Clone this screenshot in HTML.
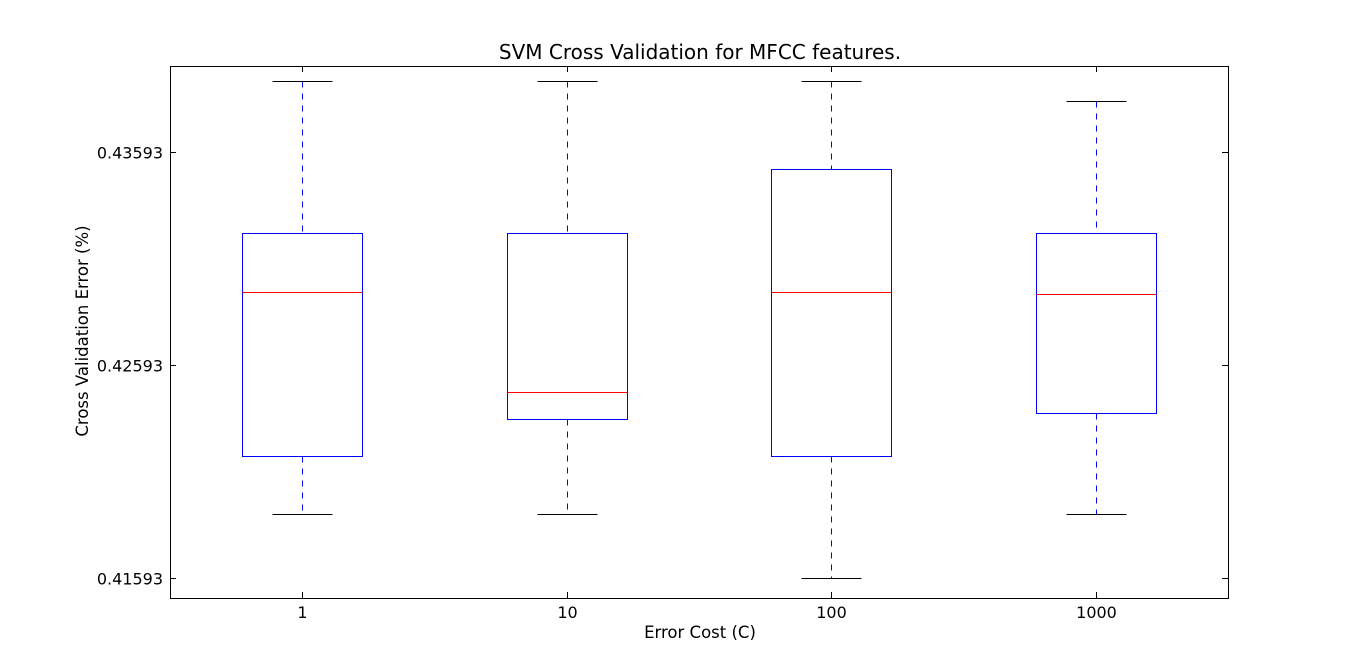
<!DOCTYPE html>
<html><head><meta charset="utf-8"><style>
body{margin:0;background:#fff;}
svg{display:block;font-family:"DejaVu Sans","Liberation Sans",sans-serif;}
</style></head><body>
<svg id="chart" width="1366" height="665"></svg>
<script>
const categories=["1","10","100","1000"];
const whiskerHigh=[0.439263,0.439263,0.439263,0.438324];
const q3Values=[0.432127,0.432127,0.435132,0.432127];
const medians=[0.429357,0.424662,0.429357,0.429263];
const q1Values=[0.421658,0.423395,0.421658,0.423676];
const whiskerLow=[0.418935,0.418935,0.415930,0.418935];
const yTicks=[0.41593,0.42593,0.43593];
const yTickLabels=["0.41593","0.42593","0.43593"];

const NS="http://www.w3.org/2000/svg";
const svg=document.getElementById('chart');
const L=170,R=1228,T=66,B=598;
const yMin=0.414991,yMax=0.439968;
function px(v){return Math.round(v)+0.5;}
function y(v){return px(B-(v-yMin)/(yMax-yMin)*(B-T));}
function x(i){return L+(i+0.5)/categories.length*(R-L);}
const unit=(R-L)/(categories.length);
function el(tag,attrs,parent){const e=document.createElementNS(NS,tag);for(const k in attrs)e.setAttribute(k,attrs[k]);(parent||svg).appendChild(e);return e;}

let t=el('text',{x:700,y:59,'text-anchor':'middle','font-size':20});t.textContent="SVM Cross Validation for MFCC features.";



for(let i=0;i<categories.length;i++){
  const cx=px(x(i)),hw=Math.round(unit*0.225),cw=Math.round(unit*0.1125);
  const g=el('g',{});
  
  
  el('line',{x1:cx,x2:cx,y1:y(whiskerHigh[i]),y2:y(q3Values[i]),stroke:'#0000ff','stroke-dasharray':'6,6'},g);
  el('line',{x1:cx,x2:cx,y1:y(q1Values[i]),y2:y(whiskerLow[i]),stroke:'#0000ff','stroke-dasharray':'6,6'},g);
  el('line',{x1:cx-cw,x2:cx+cw,y1:y(whiskerHigh[i]),y2:y(whiskerHigh[i]),stroke:'#000'},g);
  el('line',{x1:cx-cw,x2:cx+cw,y1:y(whiskerLow[i]),y2:y(whiskerLow[i]),stroke:'#000'},g);
  el('rect',{x:cx-hw,y:y(q3Values[i]),width:2*hw,height:y(q1Values[i])-y(q3Values[i]),fill:'none',stroke:'#0000ff'},g);
  el('line',{x1:cx-hw,x2:cx+hw,y1:y(medians[i]),y2:y(medians[i]),stroke:'#ff0000'},g);
  el('line',{x1:cx,x2:cx,y1:B,y2:B-6,stroke:'#000'});
  el('line',{x1:cx,x2:cx,y1:T,y2:T+6,stroke:'#000'});
  const lb=el('text',{x:cx,y:618,'text-anchor':'middle','font-size':16});lb.textContent=categories[i];
  
  
}
for(let j=0;j<yTicks.length;j++){
  const yy=y(yTicks[j]);
  el('line',{x1:L,x2:L+6,y1:yy,y2:yy,stroke:'#000'});
  el('line',{x1:R,x2:R-6,y1:yy,y2:yy,stroke:'#000'});
  const lb=el('text',{x:163,y:yy+6,'text-anchor':'end','font-size':16});lb.textContent=yTickLabels[j];
  
  
}
const fr=el('rect',{x:L+0.5,y:T+0.5,width:R-L,height:B-T,fill:'none',stroke:'#000'});


const xl=el('text',{x:700,y:638,'text-anchor':'middle','font-size':16.5});xl.textContent="Error Cost (C)";


const yl=el('text',{x:0,y:0,'text-anchor':'middle','font-size':16.5,transform:'translate(88,331) rotate(-90)'});yl.textContent="Cross Validation Error (%)";


</script>
</body></html>
